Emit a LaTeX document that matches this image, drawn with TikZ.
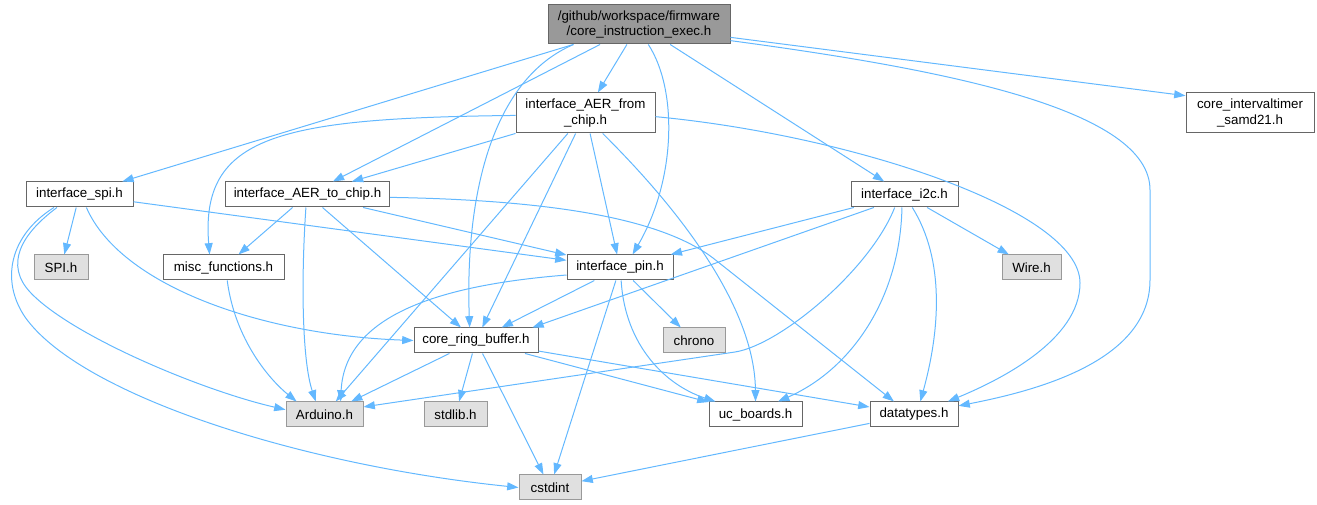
\documentclass[tikz,border=0pt]{standalone}
\usepackage{fontspec}
\setmainfont{Liberation Sans}
\usetikzlibrary{arrows.meta}
\definecolor{edgeblue}{HTML}{63B8FF}
\definecolor{boxline}{HTML}{666666}
\definecolor{sysline}{HTML}{999999}
\definecolor{sysfill}{HTML}{E0E0E0}
\definecolor{rootfill}{HTML}{999999}
\tikzset{
	hfile/.style={draw=boxline,fill=white,line width=0.75pt,inner sep=0pt,minimum width=#1*0.75pt,minimum height=18.75pt,align=center},
	sfile/.style={hfile=#1,draw=sysline,fill=sysfill},
	rfile/.style={hfile=#1,fill=rootfill,minimum height=29.25pt},
	tall/.style={minimum height=30pt},
	inc/.style={draw=edgeblue,line width=0.75pt,-{Triangle[length=8.5pt,width=6pt]}}
}
\begin{document}
\begin{tikzpicture}[x=0.75pt,y=-0.75pt,font=\fontsize{10}{11.5}\selectfont]
						\useasboundingbox (0,0) rectangle (1317,505);

						\node [rfile=182] (root) at (639,24.5) {/github/workspace/firmware\\/core\_instruction\_exec.h};
						\node [hfile=139,tall] (afrom) at (585.5,113) {interface\_AER\_from\\\_chip.h};
						\node [hfile=128,tall] (timer) at (1250,113) {core\_intervaltimer\\\_samd21.h};

						\node [hfile=107] (spi) at (79.5,194.5) {interface\_spi.h};
						\node [hfile=164] (ato) at (307.5,194.5) {interface\_AER\_to\_chip.h};
						\node [hfile=107] (i2c) at (904.5,194.5) {interface\_i2c.h};

						\node [sfile=54] (spih) at (61,267.5) {SPI.h};
						\node [hfile=121] (misc) at (223.5,267.5) {misc\_functions.h};
						\node [hfile=106] (pin) at (620,267.5) {interface\_pin.h};
						\node [sfile=59] (wire) at (1031.5,267.5) {Wire.h};

						\node [hfile=124] (ring) at (476,340.5) {core\_ring\_buffer.h};
						\node [sfile=62] (chrono) at (694,340.5) {chrono};

						\node [sfile=77] (ard) at (324.5,414.5) {Arduino.h};
						\node [sfile=63] (stdlib) at (455.5,414.5) {stdlib.h};
						\node [hfile=93] (uc) at (755.5,414.5) {uc\_boards.h};
						\node [hfile=88] (dt) at (914,414.5) {datatypes.h};

						\node [sfile=62] (cst) at (550,487.5) {cstdint};

						\draw [inc] (root) -- (spi);
						\draw [inc] (root) -- (ato);
						\draw [inc] (root.197) .. controls (490,80) and (465,200) .. (ring.116);
						\draw [inc] (root) -- (afrom);
						\draw [inc] (root.-65) .. controls (678,90) and (676,180) .. (pin.46);
						\draw [inc] (root) -- (i2c);
						\draw [inc] (root.-8) -- (timer.165);
						\draw [inc] (root.-10) .. controls (950,70) and (1150,110) .. (1150,190) -- (1150,280) .. controls (1150,360) and (1040,390) .. (dt.11);

						\draw [inc] (afrom.182) .. controls (280,118) and (200,135) .. (misc.137);
						\draw [inc] (afrom) -- (ato);
						\draw [inc] (afrom) -- (ard);
						\draw [inc] (afrom) -- (ring);
						\draw [inc] (afrom) -- (pin);
						\draw [inc] (afrom.-50) .. controls (700,230) and (755,320) .. (uc.north);
						\draw [inc] (afrom.-3) .. controls (850,135) and (1080,210) .. (1080,283) .. controls (1080,340) and (1000,380) .. (dt.21);

						\draw [inc] (ato) -- (misc);
						\draw [inc] (ato.263) .. controls (301,280) and (302,360) .. (ard.124);
						\draw [inc] (ato) -- (ring);
						\draw [inc] (ato) -- (pin);
						\draw [inc] (ato.-2) .. controls (550,200) and (660,218) .. (713,258) -- (dt.147);

						\draw [inc] (spi) -- (spih);
						\draw [inc] (spi.-62) .. controls (120,285) and (260,335) .. (ring.west);
						\draw [inc] (spi) -- (pin);
						\draw [inc] (spi.210) .. controls (20,235) and (5,265) .. (30,292) .. controls (70,335) and (200,390) .. (ard.173);
						\draw [inc] (spi.207) .. controls (10,235) and (0,280) .. (25,317) .. controls (80,395) and (300,465) .. (cst.west);

						\draw [inc] (misc.-74) .. controls (235,340) and (270,380) .. (ard.155);

						\draw [inc] (i2c) -- (pin);
						\draw [inc] (i2c.203) -- (ring.13);
						\draw [inc] (i2c.233) .. controls (870,270) and (780,345) .. (735,352) -- (ard.11);
						\draw [inc] (i2c.259) .. controls (900,300) and (850,370) .. (uc.30);
						\draw [inc] (i2c.-59) .. controls (945,260) and (940,330) .. (dt.64);
						\draw [inc] (i2c) -- (wire);

						\draw [inc] (pin.188) .. controls (440,285) and (345,315) .. (ard.39);
						\draw [inc] (pin) -- (ring);
						\draw [inc] (pin) -- (chrono);
						\draw [inc] (pin) -- (cst);
						\draw [inc] (pin.-85) .. controls (625,345) and (665,385) .. (uc.162);

						\draw [inc] (ring) -- (ard);
						\draw [inc] (ring) -- (stdlib);
						\draw [inc] (ring) -- (cst);
						\draw [inc] (ring) -- (uc);
						\draw [inc] (ring) -- (dt);

						\draw [inc] (dt) -- (cst);
					\end{tikzpicture}
\end{document}
